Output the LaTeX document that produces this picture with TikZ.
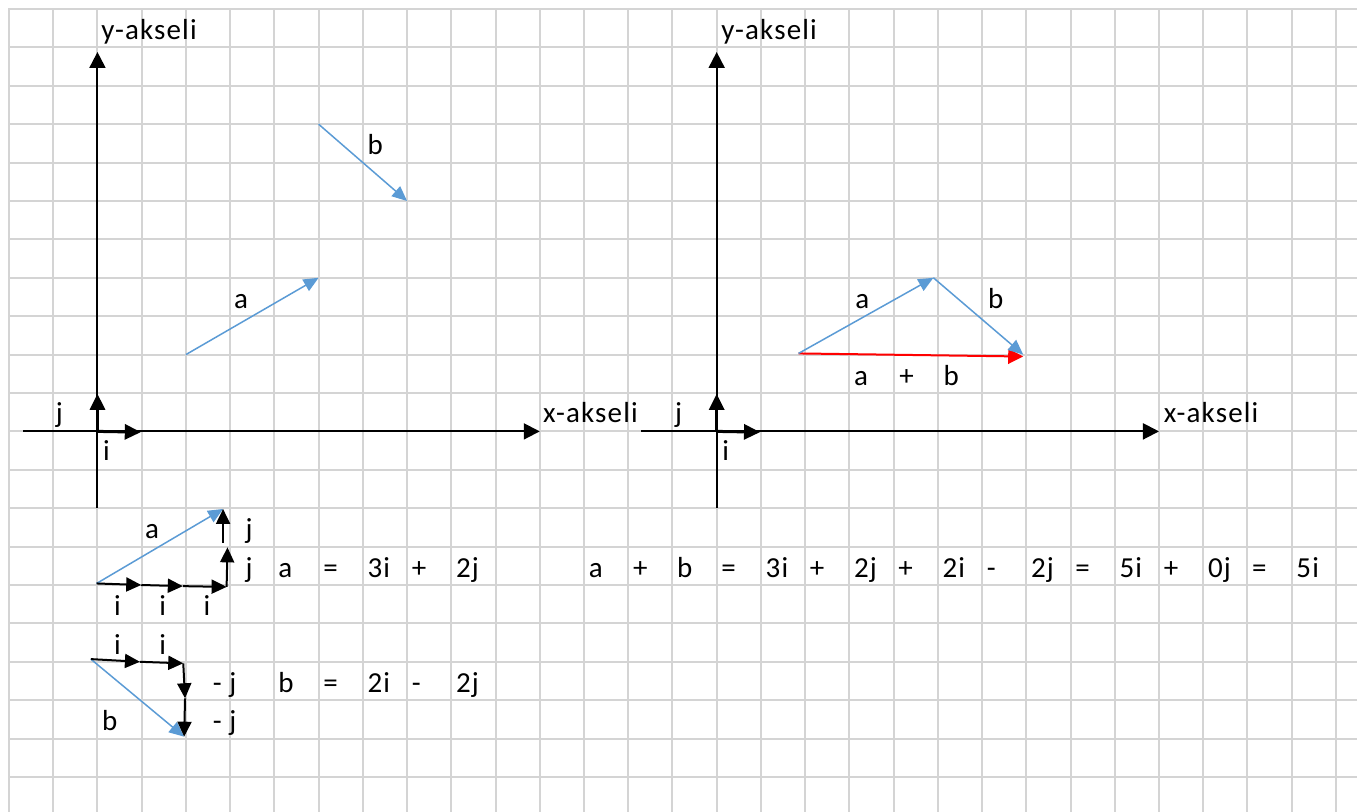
\documentclass[tikz,border=0pt]{standalone}
\usepackage{fontspec}
\setmainfont{Carlito}[LetterSpace=4]
\usetikzlibrary{arrows.meta}
\definecolor{vecblue}{HTML}{5B9BD5}
\definecolor{gridgray}{HTML}{D4D4D4}

\begin{document}
\begin{tikzpicture}[
    x=0.8846cm, y=-0.768cm,
    gridline/.style={draw=gridgray,line width=0.04cm,line cap=rect},
    axis/.style={draw=black,line width=0.04cm,-{Triangle[length=0.32cm,width=0.32cm]}},
    unitvec/.style={draw=black,line width=0.06cm,-{Triangle[length=0.32cm,width=0.3cm]}},
    stepvec/.style={draw=black,line width=0.04cm,-{Triangle[length=0.3cm,width=0.28cm]}},
    vec/.style={draw=vecblue,line width=0.03cm,-{Triangle[length=0.3cm,width=0.26cm]}},
    sumvec/.style={draw=red,line width=0.04cm,-{Triangle[length=0.3cm,width=0.3cm]}},
    lbl/.style={anchor=base west,inner sep=0pt,font=\fontsize{16.5}{20}\selectfont}
]
\useasboundingbox (-0.2035,-0.234) rectangle (30.477,20.911);
\foreach \c in {0,...,30} \draw[gridline] (\c,0) -- (\c,21);
\foreach \r in {0,...,20} \draw[gridline] (0,\r) -- (30.6,\r);

\coordinate (LO)   at (2,11);
\coordinate (LYt)  at (2,1.12);
\coordinate (LYb)  at (2,13);
\coordinate (LXl)  at (0.32,11);
\coordinate (LXr)  at (12,11);
\coordinate (LI)   at (2.98,11.02);
\coordinate (LJ)   at (2,10.02);
\coordinate (RO)   at (16,11);
\coordinate (RYt)  at (16,1.12);
\coordinate (RYb)  at (16,13);
\coordinate (RXl)  at (14.29,11);
\coordinate (RXr)  at (26,11);
\coordinate (RI)   at (16.98,11.02);
\coordinate (RJ)   at (16,10.02);

\coordinate (A0)   at (4,9);
\coordinate (A1)   at (7,7);
\coordinate (B0)   at (7,3);
\coordinate (B1)   at (9,5);

\coordinate (RA0)  at (17.85,8.97);
\coordinate (RA1)  at (20.9,7);
\coordinate (RB1)  at (22.93,9);
\coordinate (RS1)  at (22.93,9.05);

\coordinate (DA0)  at (1.98,14.96);
\coordinate (DA1)  at (2.99,15);
\coordinate (DA2)  at (3.93,15.03);
\coordinate (DA3)  at (4.92,15.05);
\coordinate (DA4)  at (4.94,14.02);
\coordinate (DA5)  at (4.84,13.9);
\coordinate (DA6)  at (4.84,13.02);

\coordinate (DB0)  at (1.85,16.93);
\coordinate (DB1)  at (2.96,17);
\coordinate (DB2)  at (3.94,17.04);
\coordinate (DB3)  at (3.98,17.95);
\coordinate (DB4)  at (3.96,18.95);

\draw[axis] (LYb) -- (LYt);
\draw[axis] (LXl) -- (LXr);
\draw[unitvec] (LO) -- (LI);
\draw[unitvec] (LO) -- (LJ);
\draw[axis] (RYb) -- (RYt);
\draw[axis] (RXl) -- (RXr);
\draw[unitvec] (RO) -- (RI);
\draw[unitvec] (RO) -- (RJ);

\draw[vec] (A0) -- (A1);
\draw[vec] (B0) -- (B1);
\draw[sumvec] (RA0) -- (RS1);
\draw[vec] (RA0) -- (RA1);
\draw[vec] (RA1) -- (RB1);

\draw[vec] (DA0) -- (DA6);
\draw[stepvec] (DA0) -- (DA1);
\draw[stepvec] (DA1) -- (DA2);
\draw[stepvec] (DA2) -- (DA3);
\draw[stepvec] (DA3) -- (DA4);
\draw[stepvec] (DA5) -- (DA6);

\draw[vec] (DB0) -- (DB4);
\draw[stepvec] (DB0) -- (DB1);
\draw[stepvec] (DB1) -- (DB2);
\draw[stepvec] (DB2) -- (DB3);
\draw[stepvec] (DB3) -- (DB4);

\node[lbl] (yL)  at (2.08,0.8)    {y-akseli};
\node[lbl] (xL)  at (12.07,10.78) {x-akseli};
\node[lbl] (jL)  at (1.05,10.78)  {j};
\node[lbl] (iL)  at (2.12,11.75)  {i};
\node[lbl] (aL)  at (5.08,7.8)    {a};
\node[lbl] (bL)  at (8.1,3.8)     {b};

\node[lbl] (yR)  at (16.1,0.8)    {y-akseli};
\node[lbl] (xR)  at (26.1,10.78)  {x-akseli};
\node[lbl] (jR)  at (15.05,10.78) {j};
\node[lbl] (iR)  at (16.12,11.75) {i};
\node[lbl] (aR)  at (19.13,7.8)   {a};
\node[lbl] (bR)  at (22.13,7.8)   {b};
\node[lbl] (sa)  at (19.1,9.8)    {a};
\node[lbl] (sp)  at (20.12,9.8)   {+};
\node[lbl] (sb)  at (21.12,9.8)   {b};

\node[lbl] (da)  at (3.07,13.8)   {a};
\node[lbl] (dj1) at (5.34,13.8)   {j};
\node[lbl] (dj2) at (5.34,14.8)   {j};
\node[lbl] (di1) at (2.37,15.8)   {i};
\node[lbl] (di2) at (3.39,15.8)   {i};
\node[lbl] (di3) at (4.39,15.8)   {i};
\node[lbl] (ea1) at (6.08,14.8)   {a};
\node[lbl] (ea2) at (7.1,14.8)    {=};
\node[lbl] (ea3) at (8.1,14.8)    {3i};
\node[lbl] (ea4) at (9.1,14.8)    {+};
\node[lbl] (ea5) at (10.1,14.8)   {2j};

\node[lbl] (dbi1) at (2.37,16.8)  {i};
\node[lbl] (dbi2) at (3.39,16.8)  {i};
\node[lbl] (dbj1) at (4.6,17.8)   {- j};
\node[lbl] (dbj2) at (4.6,18.8)   {- j};
\node[lbl] (db)   at (2.1,18.8)   {b};
\node[lbl] (eb1) at (6.08,17.8)   {b};
\node[lbl] (eb2) at (7.1,17.8)    {=};
\node[lbl] (eb3) at (8.1,17.8)    {2i};
\node[lbl] (eb4) at (9.1,17.8)    {-};
\node[lbl] (eb5) at (10.1,17.8)   {2j};

\node[lbl] (s1)  at (13.1,14.8)   {a};
\node[lbl] (s2)  at (14.1,14.8)   {+};
\node[lbl] (s3)  at (15.1,14.8)   {b};
\node[lbl] (s4)  at (16.1,14.8)   {=};
\node[lbl] (s5)  at (17.1,14.8)   {3i};
\node[lbl] (s6)  at (18.1,14.8)   {+};
\node[lbl] (s7)  at (19.1,14.8)   {2j};
\node[lbl] (s8)  at (20.1,14.8)   {+};
\node[lbl] (s9)  at (21.1,14.8)   {2i};
\node[lbl] (s10) at (22.1,14.8)   {-};
\node[lbl] (s11) at (23.1,14.8)   {2j};
\node[lbl] (s12) at (24.1,14.8)   {=};
\node[lbl] (s13) at (25.1,14.8)   {5i};
\node[lbl] (s14) at (26.1,14.8)   {+};
\node[lbl] (s15) at (27.1,14.8)   {0j};
\node[lbl] (s16) at (28.1,14.8)   {=};
\node[lbl] (s17) at (29.1,14.8)   {5i};
\end{tikzpicture}
\end{document}
